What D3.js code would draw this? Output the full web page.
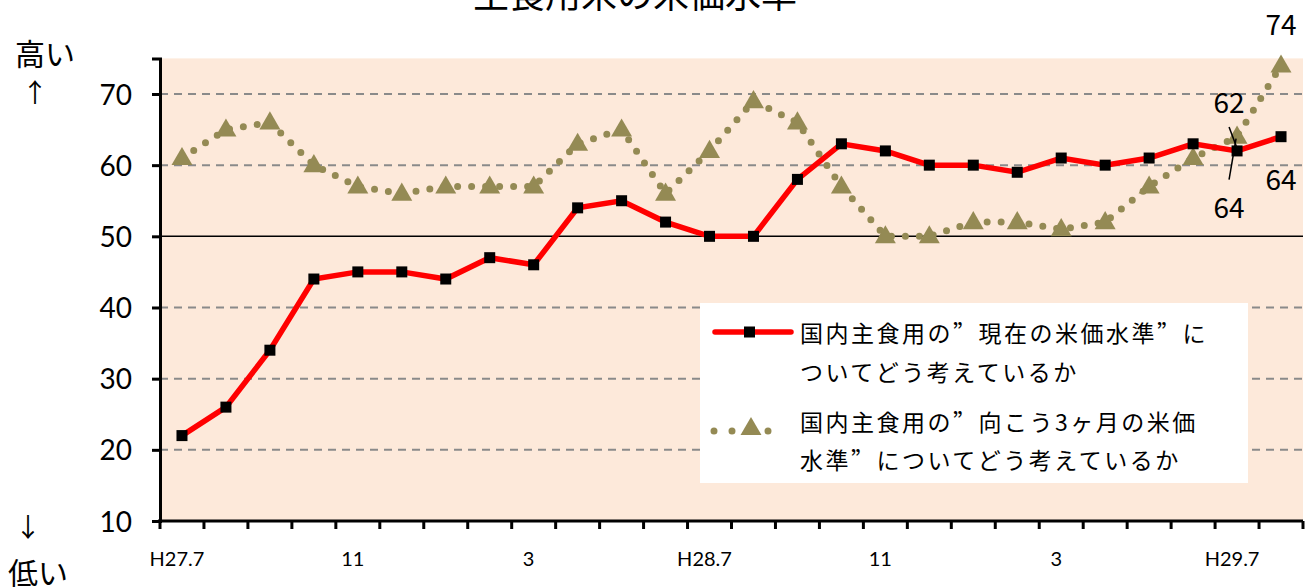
<!DOCTYPE html>
<html>
<head>
<meta charset="utf-8">
<script src="https://cdn.jsdelivr.net/npm/d3@7"></script>
<style>
  body { margin: 0; background: #fff; }
  svg text { font-family: "Noto Sans CJK JP", "Noto Sans", sans-serif; fill: #000; }
  .num { font-family: Lato, "Noto Sans", sans-serif; }
  .q { font-feature-settings: "fwid"; }
</style>
</head>
<body>
<svg id="chart" width="1311" height="587"></svg>
<script>
// months H27.7 .. H29.8
const months = ['H27.7','8','9','10','11','12','1','2','3','4','5','6',
  'H28.7','8','9','10','11','12','1','2','3','4','5','6','H29.7','8'];
const shownLabels = ['H27.7','11','3','H28.7','11','3','H29.7'];
const shownIdx = [0, 4, 8, 12, 16, 20, 24];

const currentLevel = [22, 26, 34, 44, 45, 45, 44, 47, 46, 54, 55, 52, 50,
  50, 58, 63, 62, 60, 60, 59, 61, 60, 61, 63, 62, 64];
const futureLevel = [61, 65, 66, 60, 57, 56, 57, 57, 57, 63, 65, 56, 62,
  69, 66, 57, 50, 50, 52, 52, 51, 52, 57, 61, 64, 74];

const yTicks = [10, 20, 30, 40, 50, 60, 70];

const svg = d3.select('#chart');
const plotL = 160, plotR = 1303, plotT = 58.4, plotB = 521;

const x = d3.scaleBand().domain(d3.range(months.length)).range([plotL, plotR]);
const y = d3.scaleLinear().domain([10, 75]).range([plotB, plotT]);
const cx = i => x(i) + x.bandwidth() / 2;

// plot background
svg.append('rect')
  .attr('x', plotL).attr('y', plotT)
  .attr('width', plotR - plotL).attr('height', plotB - plotT)
  .attr('fill', '#fde9da');

// gridlines
svg.append('g').selectAll('line')
  .data(yTicks.filter(d => d > 10))
  .join('line')
  .attr('x1', plotL).attr('x2', plotR)
  .attr('y1', d => y(d)).attr('y2', d => y(d))
  .attr('stroke', d => d === 50 ? '#000' : '#8a8a8a')
  .attr('stroke-width', d => d === 50 ? 1.5 : 2)
  .attr('stroke-dasharray', d => d === 50 ? null : '8,6');

// y axis
const yAxis = svg.append('g')
  .attr('transform', `translate(${plotL},0)`)
  .call(d3.axisLeft(y).tickValues(yTicks).tickSize(8).tickPadding(20));
yAxis.select('.domain').attr('stroke', '#000').attr('stroke-width', 3);
yAxis.selectAll('.tick line').attr('stroke', '#000').attr('stroke-width', 3);
yAxis.selectAll('.tick text').attr('class', 'num')
  .style('font-size', '28px').attr('dy', '0.36em');

// x axis: ticks on category boundaries
const xAxis = svg.append('g');
xAxis.append('line')
  .attr('x1', plotL - 2).attr('x2', plotR)
  .attr('y1', plotB).attr('y2', plotB)
  .attr('stroke', '#000').attr('stroke-width', 3);
xAxis.selectAll('.xt')
  .data(d3.range(months.length + 1))
  .join('line')
  .attr('class', 'xt')
  .attr('x1', i => plotL + i * x.step()).attr('x2', i => plotL + i * x.step())
  .attr('y1', plotB).attr('y2', plotB + 8)
  .attr('stroke', '#000').attr('stroke-width', 3);
xAxis.selectAll('text')
  .data(shownIdx)
  .join('text')
  .attr('class', 'num')
  .attr('x', i => cx(i) - 5)
  .attr('y', 566)
  .attr('text-anchor', 'middle')
  .style('font-size', '20px')
  .text((i, k) => shownLabels[k]);

// future level: dotted olive line with triangles
const olive = '#948a54';
const line = d3.line().x((d, i) => cx(i)).y(d => y(d));
svg.append('path')
  .datum(futureLevel)
  .attr('d', line)
  .attr('fill', 'none')
  .attr('stroke', olive)
  .attr('stroke-width', 7)
  .attr('stroke-linecap', 'round')
  .attr('stroke-dasharray', '0,14');
const tri = d3.symbol().type(d3.symbolTriangle).size(190);
svg.append('g').selectAll('path')
  .data(futureLevel)
  .join('path')
  .attr('d', tri)
  .attr('transform', (d, i) => `translate(${cx(i)},${y(d) + 1})`)
  .attr('fill', olive);

// current level: red line with black squares
svg.append('path')
  .datum(currentLevel)
  .attr('d', line)
  .attr('fill', 'none')
  .attr('stroke', '#ff0000')
  .attr('stroke-width', 5.5);
svg.append('g').selectAll('rect')
  .data(currentLevel)
  .join('rect')
  .attr('x', (d, i) => cx(i) - 5.5)
  .attr('y', d => y(d) - 5.5)
  .attr('width', 11).attr('height', 11)
  .attr('fill', '#000');

// data labels for the last two months
const n = months.length;
const lab = svg.append('g').attr('class', 'num').style('font-size', '28px');
lab.append('text').attr('x', cx(n - 1)).attr('y', y(futureLevel[n - 1]) - 31)
  .attr('text-anchor', 'middle').text(futureLevel[n - 1]);
lab.append('text').attr('x', cx(n - 1)).attr('y', y(currentLevel[n - 1]) + 53)
  .attr('text-anchor', 'middle').text(currentLevel[n - 1]);
lab.append('text').attr('x', cx(n - 2) - 8).attr('y', y(currentLevel[n - 2]) - 38)
  .attr('text-anchor', 'middle').text(currentLevel[n - 2]);
lab.append('text').attr('x', cx(n - 2) - 8).attr('y', y(futureLevel[n - 2]) + 81)
  .attr('text-anchor', 'middle').text(futureLevel[n - 2]);
svg.append('line')
  .attr('x1', cx(n - 2) - 8).attr('y1', y(currentLevel[n - 2]) - 24)
  .attr('x2', cx(n - 2) - 0.5).attr('y2', y(currentLevel[n - 2]) - 4)
  .attr('stroke', '#000').attr('stroke-width', 1.5);
svg.append('line')
  .attr('x1', cx(n - 2) - 8).attr('y1', y(futureLevel[n - 2]) + 43)
  .attr('x2', cx(n - 2) - 1).attr('y2', y(futureLevel[n - 2]) + 2)
  .attr('stroke', '#000').attr('stroke-width', 1.5);

// legend
const leg = svg.append('g');
leg.append('rect').attr('x', 700).attr('y', 303).attr('width', 548).attr('height', 180)
  .attr('fill', '#fff');
leg.append('line').attr('x1', 715).attr('x2', 791).attr('y1', 332).attr('y2', 332)
  .attr('stroke', '#ff0000').attr('stroke-width', 5.5).attr('stroke-linecap', 'round');
leg.append('rect').attr('x', 744).attr('y', 326.5).attr('width', 11).attr('height', 11)
  .attr('fill', '#000');
leg.append('line').attr('x1', 714).attr('x2', 786).attr('y1', 431).attr('y2', 431)
  .attr('stroke', olive).attr('stroke-width', 7).attr('stroke-linecap', 'round')
  .attr('stroke-dasharray', '0,18');
leg.append('path').attr('d', tri).attr('transform', 'translate(751,429)').attr('fill', olive);
const legText = [
  ['国内主食用の”現在の米価水準”に', 342],
  ['ついてどう考えているか', 381],
  ['国内主食用の”向こう3ヶ月の米価', 431],
  ['水準”についてどう考えているか', 469]
];
leg.selectAll('text')
  .data(legText)
  .join('text')
  .attr('x', 800).attr('y', d => d[1])
  .style('font-size', '23px')
  .style('letter-spacing', '2.5px')
  .each(function (d) {
    const parts = d[0].split('”');
    const t = d3.select(this);
    parts.forEach((p, k) => {
      if (k > 0) t.append('tspan').attr('class', 'q').text('”');
      t.append('tspan').text(p);
    });
  });

// title (partly outside the view) and direction notes
svg.append('text').attr('x', 635).attr('y', 8).attr('text-anchor', 'middle')
  .style('font-size', '36px').text('主食用米の米価水準');
svg.append('text').attr('x', 15).attr('y', 65).style('font-size', '30px').text('高い');
svg.append('text').attr('x', 22).attr('y', 102).style('font-size', '26px').text('↑');
svg.append('text').attr('x', 15).attr('y', 537).style('font-size', '26px').text('↓');
svg.append('text').attr('x', 8).attr('y', 584).style('font-size', '30px').text('低い');
</script>
</body>
</html>
